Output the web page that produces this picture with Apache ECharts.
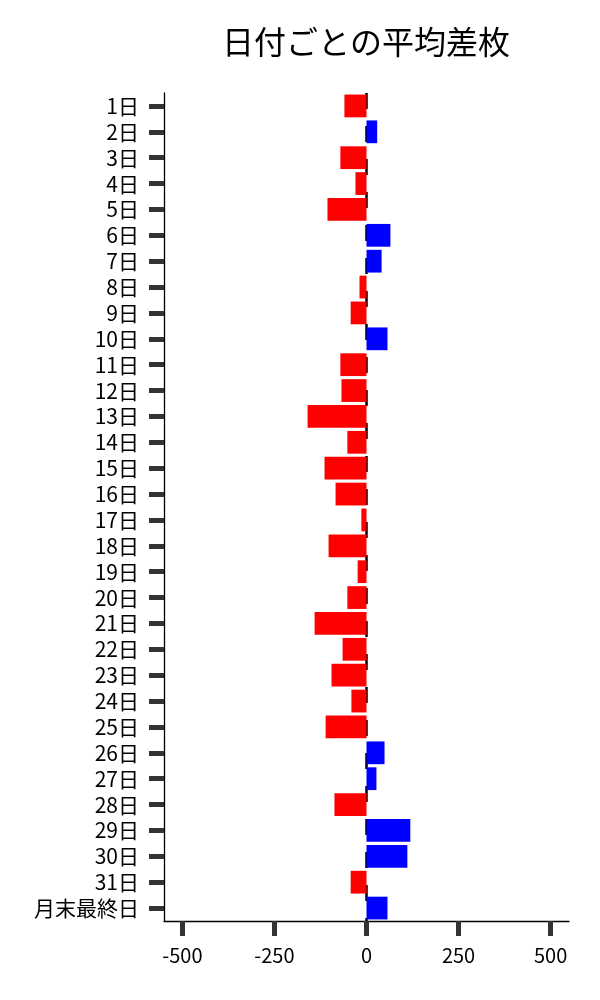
<!DOCTYPE html>
<html>
<head>
<meta charset="utf-8">
<script src="https://cdn.jsdelivr.net/npm/echarts@6/dist/echarts.min.js"></script>
<style>
html,body{margin:0;padding:0;background:#fff;}
#chart{width:600px;height:1000px;}
</style>
</head>
<body>
<div id="chart"></div>
<script>
const categories = ['1日','2日','3日','4日','5日','6日','7日','8日','9日','10日',
  '11日','12日','13日','14日','15日','16日','17日','18日','19日','20日',
  '21日','22日','23日','24日','25日','26日','27日','28日','29日','30日','31日','月末最終日'];
const values = [-60, 29, -71, -30, -106, 65, 41, -19, -43, 57,
  -71, -68, -160, -52, -114, -84, -14, -103, -24, -52,
  -141, -65, -95, -41, -111, 49, 27, -87, 119, 111, -43, 57];
const xTicks = [-500, -250, 0, 250, 500];
const titleText = '日付ごとの平均差枚';

const FONT = '"Noto Sans CJK JP", "Noto Sans", sans-serif';
const chart = echarts.init(document.getElementById('chart'), null, {renderer: 'canvas'});
chart.setOption({
  animation: false,
  backgroundColor: '#ffffff',
  title: {
    text: titleText,
    left: 366,
    top: 26,
    padding: 0,
    textAlign: 'center',
    textStyle: {fontFamily: FONT, fontSize: 32, fontWeight: 'normal', color: '#000'}
  },
  grid: {left: 164, right: 31, top: 93, bottom: 79, containLabel: false},
  xAxis: {
    type: 'value',
    min: -550,
    max: 550,
    position: 'bottom',
    splitLine: {show: false},
    axisLine: {show: true, onZero: false, lineStyle: {color: '#000', width: 1.3}},
    axisTick: {show: true, customValues: xTicks, length: 15, lineStyle: {color: '#333', width: 5}},
    axisLabel: {customValues: xTicks, margin: 24, fontFamily: FONT, fontSize: 20, color: '#000'}
  },
  yAxis: {
    type: 'category',
    data: categories,
    inverse: true,
    position: 'left',
    axisLine: {show: true, onZero: false, lineStyle: {color: '#000', width: 1.3}},
    axisTick: {show: true, interval: 0, alignWithLabel: true, length: 15, lineStyle: {color: '#333', width: 5}},
    axisLabel: {interval: 0, margin: 25, fontFamily: FONT, fontSize: 21, color: '#000'},
    splitLine: {show: false}
  },
  series: [{
    type: 'bar',
    data: values,
    barCategoryGap: '12%',
    z: 2,
    itemStyle: {
      color: function (p) { return p.value < 0 ? '#ff0000' : '#0000ff'; }
    },
    emphasis: {disabled: true},
    markLine: {
      silent: true,
      z: 1,
      symbol: ['none', 'none'],
      label: {show: false},
      lineStyle: {color: '#000', width: 2.5, type: [16, 17]},
      emphasis: {disabled: true},
      data: [{xAxis: 0}]
    }
  }]
});
</script>
</body>
</html>
